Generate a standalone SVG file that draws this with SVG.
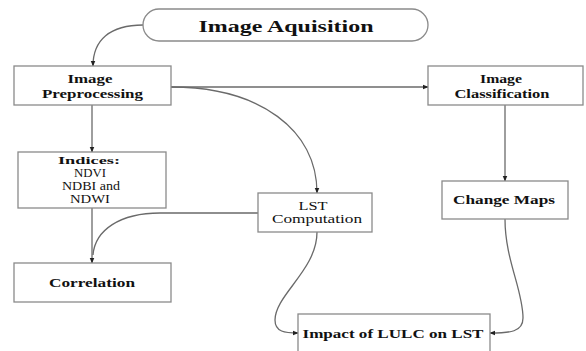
<svg xmlns="http://www.w3.org/2000/svg" width="586" height="351" viewBox="0 0 586 351">
<style>
.box{fill:#fff;stroke:#8a8a8a;stroke-width:1.3}
.t{font-family:"Liberation Serif","Times New Roman",serif;fill:#111;text-anchor:middle}
.b{font-weight:bold}
.c{fill:none;stroke:#6a6a6a;stroke-width:1.3}
</style>
<defs>
<marker id="ar" viewBox="0 0 10 10" refX="9" refY="5" markerWidth="6" markerHeight="6" orient="auto" markerUnits="userSpaceOnUse">
<path d="M0,1 L10,5 L0,9 z" fill="#222"/>
</marker>
</defs>
<rect width="586" height="351" fill="#fff"/>
<g id="connectors">
<path class="c" d="M143,25 C110,25 93,40 93,66" marker-end="url(#ar)"/>
<path class="c" d="M92,105 L92,152" marker-end="url(#ar)"/>
<path class="c" d="M171,87 L428,87" marker-end="url(#ar)"/>
<path class="c" d="M171,87 C260,87 317,130 317,193" marker-end="url(#ar)"/>
<path class="c" d="M92,208 L92,263" marker-end="url(#ar)"/>
<path class="c" d="M258,213 L160,213 C120,213 95,230 93,255"/>
<path class="c" d="M317,232 C317,270 275,295 275,320 C275,332 285,333 298,333" marker-end="url(#ar)"/>
<path class="c" d="M505,105 L505,181" marker-end="url(#ar)"/>
<path class="c" d="M505,219 C505,260 523,290 523,318 C523,332 510,333 490,333" marker-end="url(#ar)"/>
</g>
<g id="image-aquisition">
<rect class="box" x="143" y="9" width="285" height="32" rx="16" ry="16"/>
<text class="t b" x="286" y="32" font-size="17" textLength="175" lengthAdjust="spacingAndGlyphs">Image Aquisition</text>
</g>
<g id="image-preprocessing">
<rect class="box" x="14" y="66" width="157" height="39"/>
<text class="t b" x="90" y="83" font-size="12" textLength="45" lengthAdjust="spacingAndGlyphs">Image</text>
<text class="t b" x="92.5" y="98" font-size="12" textLength="101" lengthAdjust="spacingAndGlyphs">Preprocessing</text>
</g>
<g id="image-classification">
<rect class="box" x="428" y="66" width="155" height="39"/>
<text class="t b" x="501" y="83" font-size="12" textLength="42" lengthAdjust="spacingAndGlyphs">Image</text>
<text class="t b" x="502" y="98" font-size="12" textLength="95" lengthAdjust="spacingAndGlyphs">Classification</text>
</g>
<g id="indices">
<rect class="box" x="18" y="152" width="148" height="56"/>
<text class="t b" x="89" y="164" font-size="11" textLength="62" lengthAdjust="spacingAndGlyphs">Indices:</text>
<text class="t" x="90" y="177" font-size="12" textLength="32" lengthAdjust="spacingAndGlyphs">NDVI</text>
<text class="t" x="91" y="190" font-size="12" textLength="58" lengthAdjust="spacingAndGlyphs">NDBI and</text>
<text class="t" x="90" y="203" font-size="12" textLength="40" lengthAdjust="spacingAndGlyphs">NDWI</text>
</g>
<g id="lst-computation">
<rect class="box" x="258" y="193" width="114" height="39"/>
<text class="t" x="313" y="210" font-size="12" textLength="29" lengthAdjust="spacingAndGlyphs">LST</text>
<text class="t" x="317" y="223" font-size="12" textLength="90" lengthAdjust="spacingAndGlyphs">Computation</text>
</g>
<g id="change-maps">
<rect class="box" x="442" y="181" width="126" height="38"/>
<text class="t b" x="504" y="204" font-size="12" textLength="102" lengthAdjust="spacingAndGlyphs">Change Maps</text>
</g>
<g id="correlation">
<rect class="box" x="14" y="263" width="157" height="39"/>
<text class="t b" x="92" y="287" font-size="12" textLength="86" lengthAdjust="spacingAndGlyphs">Correlation</text>
</g>
<g id="impact">
<rect class="box" x="298" y="314" width="192" height="40"/>
<text class="t b" x="393" y="338" font-size="13" textLength="181" lengthAdjust="spacingAndGlyphs">Impact of LULC on LST</text>
</g>
</svg>
